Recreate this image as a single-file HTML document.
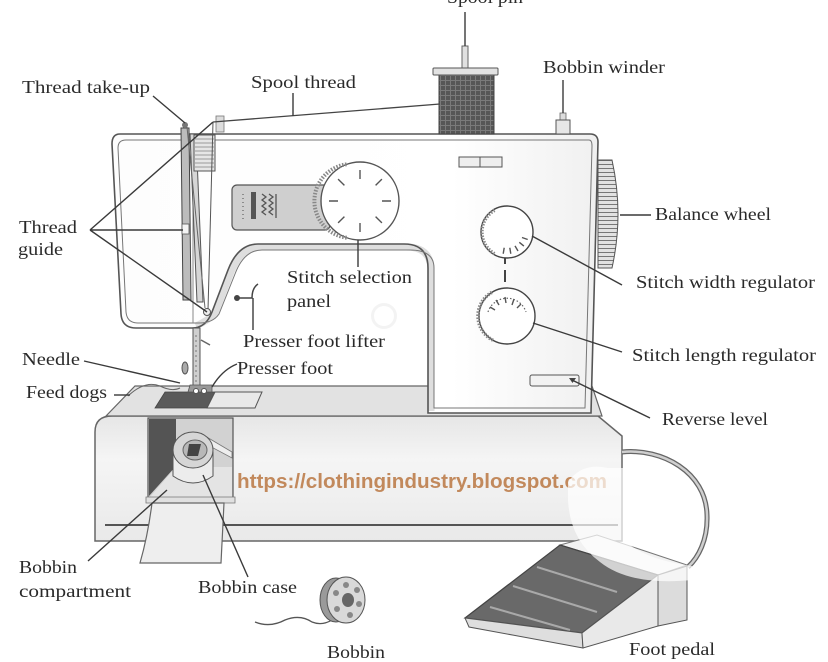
<!DOCTYPE html>
<html><head><meta charset="utf-8"><style>
html,body{margin:0;padding:0;background:#fff;}
svg{display:block}
text.l{font-family:"Liberation Serif",serif;font-size:18px;fill:#2a2a2a}
</style></head><body>
<svg width="828" height="662" viewBox="0 0 828 662" xmlns="http://www.w3.org/2000/svg">
<defs>
<linearGradient id="gbase" x1="0" y1="0" x2="0" y2="1">
 <stop offset="0" stop-color="#e6e6e6"/><stop offset="0.35" stop-color="#f5f5f5"/><stop offset="1" stop-color="#e9e9e9"/>
</linearGradient>
<linearGradient id="ghead" x1="0" y1="0" x2="1" y2="0">
 <stop offset="0" stop-color="#fdfdfd"/><stop offset="0.7" stop-color="#ffffff"/><stop offset="1" stop-color="#f0f0f0"/>
</linearGradient>
<pattern id="spoolp" width="5" height="5" patternUnits="userSpaceOnUse">
 <rect width="5" height="5" fill="#565656"/><path d="M0,0.5H5M0.5,0V5" stroke="#7a7a7a" stroke-width="1"/>
</pattern>
<pattern id="wheelp" width="20" height="4" patternUnits="userSpaceOnUse">
 <rect width="20" height="4" fill="#e2e2e2"/><path d="M0,0.5H20" stroke="#777" stroke-width="1"/>
</pattern>
</defs>

<!-- BASE -->
<path d="M95,432 Q95,416 112,416 L598,416 L622,436 L622,541 L95,541 Z" fill="url(#gbase)" stroke="#666" stroke-width="1.5"/>
<path d="M135,386 L592,386 L602,416 L106,416 Z" fill="#e2e2e2" stroke="#666" stroke-width="1.2"/>
<line x1="105" y1="525" x2="618" y2="525" stroke="#555" stroke-width="2"/>

<!-- bobbin compartment -->
<rect x="148" y="418" width="85" height="81" fill="#d2d2d2" stroke="#555" stroke-width="1.2"/>
<path d="M149,419 L176,419 L176,466 L149,496 Z" fill="#545454"/>
<path d="M150,497 L176,467 L232,467 L232,498 Z" fill="#e4e4e4"/>
<path d="M205,436 L232,452 L232,458 L202,442 Z" fill="#eee" stroke="#777" stroke-width="0.8"/>
<path d="M173,452 L173,476 Q193,490 213,476 L213,452 Z" fill="#ececec" stroke="#555"/>
<ellipse cx="193" cy="450" rx="20" ry="18" fill="#d6d6d6" stroke="#555"/>
<ellipse cx="195" cy="450" rx="12" ry="10" fill="#b8b8b8" stroke="#666"/>
<path d="M189,444 L201,444 L198,456 L187,456 Z" fill="#444"/>
<path d="M146,497 L235,497 L235,503 L146,503 Z" fill="#e0e0e0" stroke="#777" stroke-width="0.8"/>
<path d="M152,503 L224,503 L221,563 L140,563 Q148,535 152,503 Z" fill="#eeeeee" stroke="#666" stroke-width="1.2"/>

<!-- watermark -->
<text x="237" y="488" textLength="370" lengthAdjust="spacingAndGlyphs" style="font-family:'Liberation Sans',sans-serif;font-weight:bold;font-size:20px;fill:#c2895c">https://clothingindustry.blogspot.com</text>

<!-- cord -->
<path d="M622,452 C662,448 706,472 707,515 C708,540 698,558 688,567" fill="none" stroke="#666" stroke-width="5"/>
<path d="M622,452 C662,448 706,472 707,515 C708,540 698,558 688,567" fill="none" stroke="#cfcfcf" stroke-width="2.5"/>

<!-- pedal -->
<path d="M560,545 L597,535 L687,565 L658,575 Z" fill="#f2f2f2" stroke="#777" stroke-width="1"/>
<path d="M560,545 L658,575 L582,633 L465,618 Z" fill="#696969" stroke="#444" stroke-width="1.2"/>
<path d="M537,567 L617,592 M513,586 L597,612 M490,607 L570,630" stroke="#a9a9a9" stroke-width="2" fill="none"/>
<path d="M465,618 L582,633 L583,648 L469,627 Z" fill="#dedede" stroke="#555" stroke-width="1"/>
<path d="M582,633 L658,575 L658,626 L583,648 Z" fill="#e9e9e9" stroke="#555" stroke-width="1"/>
<path d="M658,575 L687,566 L687,620 L658,626 Z" fill="#dcdcdc" stroke="#555" stroke-width="1"/>

<!-- glare -->
<path d="M568,482 Q582,462 608,468 L624,468 L624,540 Q645,560 692,566 L692,580 Q630,586 600,562 Q570,540 568,500 Z" fill="#fff" opacity="0.7"/>

<!-- HEAD -->
<path d="M120,134 L590,134 Q598,134 598,142 L591,413 L428,413 L428,268 Q428,244 404,244 L258,244 Q238,244 228,270 L212,312 Q206,328 192,328 L136,328 Q122,328 121,314 L112,144 Q112,134 120,134 Z" fill="url(#ghead)"/>
<path d="M196,326 Q209,320 215,313 L231,272 Q241,247 260,247 L406,247 Q431,247 431,270 L431,411" fill="none" stroke="#dedede" stroke-width="7"/>
<path d="M120,134 L590,134 Q598,134 598,142 L591,413 L428,413 L428,268 Q428,244 404,244 L258,244 Q238,244 228,270 L212,312 Q206,328 192,328 L136,328 Q122,328 121,314 L112,144 Q112,134 120,134 Z" fill="none" stroke="#555" stroke-width="1.6"/>
<path d="M126,140 L589,140 Q592,140 592,146 L585,408 L434,408 L434,268 Q434,250 410,250 L262,250 Q244,250 235,274 L219,314 Q213,323 199,323 L138,323 Q127,323 126,312 L118,148 Q118,140 126,140 Z" fill="none" stroke="#777" stroke-width="1"/>
<line x1="193" y1="141" x2="193" y2="323" stroke="#888" stroke-width="1"/>

<!-- needle plate -->
<path d="M165,392 L215,392 L207,408 L155,408 Z" fill="#5a5a5a" stroke="#444" stroke-width="0.8"/>
<path d="M215,392 L262,392 L255,408 L207,408 Z" fill="#e9e9e9" stroke="#555" stroke-width="1"/>
<path d="M128,396 Q145,380 160,386 Q172,392 180,388" fill="none" stroke="#666" stroke-width="1"/>

<!-- needle bar -->
<rect x="193" y="328" width="7" height="60" fill="#cfcfcf" stroke="#555" stroke-width="1"/>
<path d="M196,335 V385" stroke="#777" stroke-width="1" stroke-dasharray="2 3"/>
<ellipse cx="185" cy="368" rx="3" ry="6" fill="#aaa" stroke="#555"/>
<path d="M201,340 L210,345" stroke="#666" stroke-width="1.5"/>
<path d="M190,385 L212,385 L212,392 L188,392 Z" fill="#999" stroke="#555" stroke-width="0.8"/>
<circle cx="196" cy="391" r="2.5" fill="#fff" stroke="#555"/>
<circle cx="204" cy="391" r="2.5" fill="#fff" stroke="#555"/>

<!-- take-up / thread guides -->
<path d="M181,128 L189,128 L191,300 L183,300 Z" fill="#bcbcbc" stroke="#444" stroke-width="1"/>
<path d="M190,134 L196,134 L203,302 L197,302 Z" fill="#d6d6d6" stroke="#555" stroke-width="1"/>
<rect x="182" y="224" width="7" height="10" fill="#f4f4f4" stroke="#555" stroke-width="0.8"/>
<rect x="194" y="135" width="21" height="36" fill="#e6e6e6" stroke="#555" stroke-width="1"/>
<path d="M195,139H214M195,143H214M195,147H214M195,151H214M195,155H214M195,159H214M195,163H214M195,167H214" stroke="#999" stroke-width="1"/>
<path d="M213,122 L208,310" stroke="#555" stroke-width="1"/>
<path d="M187,127 L205,308" stroke="#666" stroke-width="1"/>
<circle cx="207" cy="312" r="3.5" fill="#eee" stroke="#555"/>
<circle cx="185" cy="125" r="3" fill="#777"/>
<rect x="216" y="116" width="8" height="16" fill="#ddd" stroke="#777" stroke-width="0.8"/>
<path d="M213,122 L440,104" stroke="#444" stroke-width="1.3"/>

<!-- presser foot lifter -->
<path d="M236,298 L252,298 Q252,288 258,284" fill="none" stroke="#444" stroke-width="1.5"/>
<circle cx="237" cy="298" r="3" fill="#444"/>

<!-- stitch selection panel -->
<rect x="232" y="185" width="98" height="45" rx="5" fill="#cfcfcf" stroke="#555" stroke-width="1.2"/>
<path d="M243,194 V220" stroke="#777" stroke-width="1.5" stroke-dasharray="1 3"/>
<rect x="251" y="192" width="5" height="27" fill="#555"/>
<path d="M262,194 l4,3 l-4,3 l4,3 l-4,3 l4,3 l-4,3 l4,3 M269,194 l4,3 l-4,3 l4,3 l-4,3 l4,3 l-4,3 l4,3 M276,194 V218" fill="none" stroke="#555" stroke-width="1.3"/>
<circle cx="360" cy="201" r="39" fill="#fff" stroke="#555" stroke-width="1.4"/>
<path d="M346.7,237.7 A37,37 0 0 1 346.7,164.3" fill="none" stroke="#888" stroke-width="4" stroke-dasharray="1.5 1.5"/>
<path d="M382,201 L391,201 M375.6,216.6 L381.9,222.9 M360,223 L360,232 M344.4,216.6 L338.1,222.9 M338,201 L329,201 M344.4,185.4 L338.1,179.1 M360,179 L360,170 M375.6,185.4 L381.9,179.1" stroke="#555" stroke-width="1.4"/>

<!-- white glow circle -->
<circle cx="384" cy="316" r="13" fill="#f0f0f0" opacity="0.8"/>
<circle cx="384" cy="316" r="10" fill="#fff"/>

<!-- right column -->
<rect x="459" y="157" width="43" height="10" fill="#eee" stroke="#555" stroke-width="1"/>
<line x1="480" y1="157" x2="480" y2="167" stroke="#555"/>
<circle cx="507" cy="232" r="26" fill="#fff" stroke="#444" stroke-width="1.4"/>
<path d="M494.5,253.7 A25,25 0 0 1 494.5,210.3" fill="none" stroke="#888" stroke-width="3.5" stroke-dasharray="1.5 1.5"/>
<path d="M522,237.5 L527.7,239.5 M519.3,242.3 L523.9,246.1 M515,245.9 L518,251 M509.8,247.8 L510.8,253.7 M504.2,247.8 L503.2,253.7" stroke="#555" stroke-width="1.4"/>
<path d="M505,258 V264 M505,270 V282" stroke="#444" stroke-width="2"/>
<circle cx="507" cy="316" r="28" fill="#fff" stroke="#444" stroke-width="1.4"/>
<path d="M493,340.2 A27,27 0 0 1 493,291.8" fill="none" stroke="#888" stroke-width="3.5" stroke-dasharray="1.5 1.5"/>
<path d="M488,312 A20,20 0 0 1 526,312" fill="none" stroke="#666" stroke-width="1.2" stroke-dasharray="1.5 2"/>
<path d="M490,307 L495,310 M496,300 L499,305 M505,297 L506,303 M514,299 L512,305 M521,304 L517,308" stroke="#555" stroke-width="1.4"/>
<rect x="530" y="375" width="49" height="11" rx="2" fill="#f2f2f2" stroke="#555" stroke-width="1"/>
<path d="M569,378 L576,378 L572.5,383 Z" fill="#444"/>
<path d="M598,160 L612,160 Q624,214 612,268 L598,268 Z" fill="url(#wheelp)" stroke="#555" stroke-width="1"/>

<!-- spool & winder -->
<rect x="462" y="46" width="6" height="22" fill="#e0e0e0" stroke="#666" stroke-width="1"/>
<rect x="439" y="75" width="55" height="59" fill="url(#spoolp)" stroke="#444" stroke-width="1"/>
<rect x="433" y="68" width="65" height="7" rx="1" fill="#e2e2e2" stroke="#555" stroke-width="1"/>
<rect x="560" y="113" width="6" height="8" fill="#ddd" stroke="#666" stroke-width="0.8"/>
<rect x="556" y="120" width="14" height="14" fill="#e6e6e6" stroke="#555" stroke-width="1"/>

<!-- bobbin -->
<path d="M255,622 Q270,628 285,620 Q300,614 312,622 Q322,626 332,620" fill="none" stroke="#555" stroke-width="1.3"/>
<ellipse cx="336" cy="600" rx="16" ry="22" fill="#9a9a9a" stroke="#555"/>
<ellipse cx="346" cy="600" rx="19" ry="23" fill="#d9d9d9" stroke="#555"/>
<ellipse cx="348" cy="600" rx="6" ry="7" fill="#666"/>
<circle cx="346" cy="585" r="3" fill="#888"/><circle cx="357" cy="590" r="3" fill="#888"/><circle cx="359" cy="604" r="3" fill="#888"/><circle cx="350" cy="615" r="3" fill="#888"/><circle cx="337" cy="609" r="3" fill="#888"/><circle cx="336" cy="593" r="3" fill="#888"/>

<!-- LEADER LINES -->
<g stroke="#3a3a3a" stroke-width="1.4" fill="none">
<path d="M465,12 V46"/>
<path d="M563,80 V113"/>
<path d="M153,96 L185,123"/>
<path d="M293,93 V116"/>
<path d="M90,230 L213,122 M90,230 L183,230 M90,230 L207,312"/>
<path d="M358,240 V267"/>
<path d="M253,330 V298"/>
<path d="M620,215 H651"/>
<path d="M532,236 L622,285"/>
<path d="M533,323 L622,352"/>
<path d="M572,380 L650,418"/>
<path d="M84,361 L180,383"/>
<path d="M114,395 H130"/>
<path d="M237,364 Q222,370 212,387"/>
<path d="M88,561 L167,490"/>
<path d="M248,577 L203,475"/>
</g>

<!-- LABELS -->
<text class="l" x="447" y="3" textLength="76" lengthAdjust="spacingAndGlyphs">Spool pin</text>
<text class="l" x="22" y="93" textLength="128" lengthAdjust="spacingAndGlyphs">Thread take-up</text>
<text class="l" x="251" y="88" textLength="105" lengthAdjust="spacingAndGlyphs">Spool thread</text>
<text class="l" x="543" y="73" textLength="122" lengthAdjust="spacingAndGlyphs">Bobbin winder</text>
<text class="l" x="19" y="233" textLength="58" lengthAdjust="spacingAndGlyphs">Thread</text>
<text class="l" x="18" y="255" textLength="45" lengthAdjust="spacingAndGlyphs">guide</text>
<text class="l" x="655" y="220" textLength="116" lengthAdjust="spacingAndGlyphs">Balance wheel</text>
<text class="l" x="636" y="288" textLength="179" lengthAdjust="spacingAndGlyphs">Stitch width regulator</text>
<text class="l" x="287" y="283" textLength="125" lengthAdjust="spacingAndGlyphs">Stitch selection</text>
<text class="l" x="287" y="307" textLength="44" lengthAdjust="spacingAndGlyphs">panel</text>
<text class="l" x="243" y="347" textLength="142" lengthAdjust="spacingAndGlyphs">Presser foot lifter</text>
<text class="l" x="237" y="374" textLength="96" lengthAdjust="spacingAndGlyphs">Presser foot</text>
<text class="l" x="632" y="361" textLength="184" lengthAdjust="spacingAndGlyphs">Stitch length regulator</text>
<text class="l" x="22" y="365" textLength="58" lengthAdjust="spacingAndGlyphs">Needle</text>
<text class="l" x="26" y="398" textLength="81" lengthAdjust="spacingAndGlyphs">Feed dogs</text>
<text class="l" x="662" y="425" textLength="106" lengthAdjust="spacingAndGlyphs">Reverse level</text>
<text class="l" x="19" y="573" textLength="58" lengthAdjust="spacingAndGlyphs">Bobbin</text>
<text class="l" x="19" y="597" textLength="112" lengthAdjust="spacingAndGlyphs">compartment</text>
<text class="l" x="198" y="593" textLength="99" lengthAdjust="spacingAndGlyphs">Bobbin case</text>
<text class="l" x="327" y="658" textLength="58" lengthAdjust="spacingAndGlyphs">Bobbin</text>
<text class="l" x="629" y="655" textLength="86" lengthAdjust="spacingAndGlyphs">Foot pedal</text>
</svg>
</body></html>
